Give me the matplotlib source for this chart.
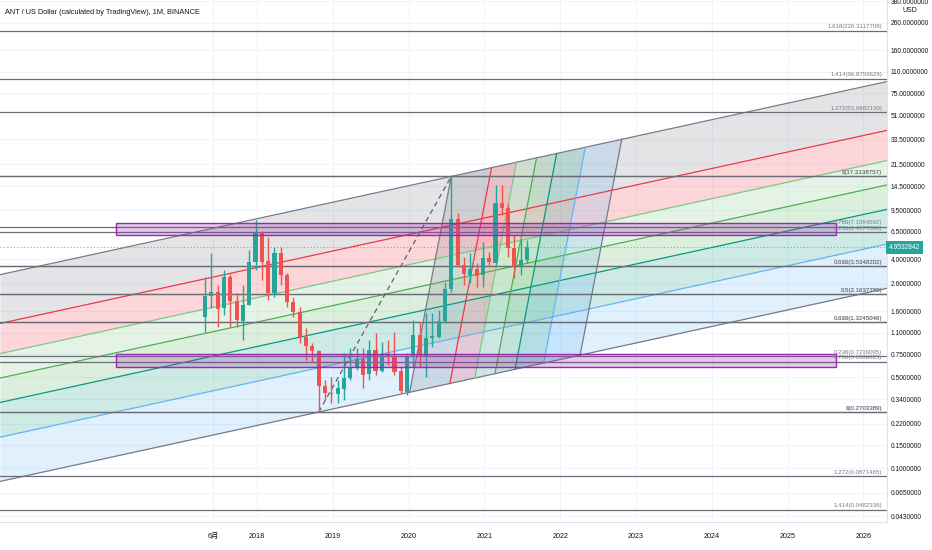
import numpy as np
import matplotlib.pyplot as plt
from matplotlib.ticker import FixedLocator, FuncFormatter, NullLocator
from matplotlib.patches import Polygon, Rectangle

plt.rcParams['font.family'] = ['Liberation Sans Narrow', 'Liberation Sans',
                               'Noto Sans CJK JP', 'DejaVu Sans']

# monthly candles, month index counted from Jan 2018
months = list(range(-8, 44))
opens = [1.438, 2.096, 2.261, 1.695, 2.931, 1.929, 1.354, 1.787, 3.840, 6.521,
         3.887, 2.221, 4.501, 3.036, 1.894, 1.588, 1.021, 0.8666, 0.7974, 0.4276,
         0.3799, 0.3713, 0.4035, 0.4899, 0.6012, 0.6888, 0.5287, 0.8074, 0.5603, 0.7393,
         0.7173, 0.5603, 0.3867, 0.7097, 1.052, 0.7097, 0.998, 1.021, 1.348, 2.358,
         8.118, 3.622, 3.036, 3.376, 3.036, 4.120, 3.772, 10.88, 9.858, 4.916,
         3.578, 3.957]
highs = [2.946, 4.477, 2.545, 3.316, 3.090, 2.209, 2.545, 4.721, 8.017, 6.600,
         5.970, 5.004, 5.004, 3.145, 2.070, 1.735, 1.191, 0.9137, 0.8074, 0.4755,
         0.5013, 0.4755, 0.7658, 0.8363, 0.8363, 0.8363, 0.963, 1.090, 0.9350, 0.963,
         1.115, 0.6012, 0.7658, 1.371, 1.331, 1.552, 1.552, 1.637, 2.697, 17.3138757,
         9.120, 4.194, 4.477, 3.752, 5.465, 4.580, 14.87, 14.87, 10.88, 6.152,
         5.632, 5.632]
lows = [1.115, 1.695, 1.218, 1.498, 1.218, 1.212, 0.963, 1.787, 3.316, 2.779,
        1.952, 2.070, 2.545, 1.735, 1.454, 0.9137, 0.6767, 0.6568, 0.2703389, 0.3340,
        0.3167, 0.3167, 0.3340, 0.4755, 0.5672, 0.4107, 0.4755, 0.5194, 0.5504, 0.6196,
        0.5194, 0.3759, 0.3648, 0.6012, 0.6012, 0.5039, 0.8558, 0.998, 1.294, 2.261,
        3.515, 2.545, 2.636, 2.469, 2.469, 3.622, 3.622, 8.758, 4.194, 2.864,
        3.036, 3.733]
closes = [2.096, 2.248, 1.657, 2.931, 1.929, 1.371, 1.787, 3.840, 6.521, 3.840,
          2.221, 4.501, 3.036, 1.894, 1.588, 1.021, 0.8666, 0.7974, 0.4276, 0.3759,
          0.3713, 0.4107, 0.4899, 0.6012, 0.6888, 0.5194, 0.8074, 0.5603, 0.7393, 0.7097,
          0.5504, 0.3936, 0.7097, 1.052, 0.7097, 0.9927, 1.034, 1.348, 2.371, 8.118,
          3.622, 3.073, 3.376, 2.999, 4.120, 3.799, 10.88, 9.858, 4.916, 3.578,
          3.957, 4.9532842]
last_price = 4.9532842

# two fib retracements between the swing high and the swing low (labels as shown)
fib_high = 17.3138757
fib_low = 0.2703389
down_levels = [0, 0.236, 0.382, 0.5, 0.618, 0.786, 1, 1.272, 1.414]
down_prices = [17.3138757, 6.4877896, 3.5348202, 2.1637789, 1.3245046, 0.6586025,
               0.2703389, 0.0871465, 0.0482336]
up_levels = [0, 0.236, 0.382, 0.5, 0.618, 0.786, 1, 1.272, 1.414, 1.618]
up_prices = [0.2703389, 0.7216095, 1.3245046, 2.1637789, 3.5348202, 7.1094592,
             17.3138757, 53.6682130, 96.8759628, 226.3117708]

# fib channel (sloped)
chan_top_anchor = (31, 17.3138757)
chan_bottom_anchor = (10, 0.2703389)
chan_slope = 0.01054  # decades per month
chan_levels = [0, 0.236, 0.382, 0.5, 0.618, 0.786, 1]
chan_colors = ['#787b86', '#f23645', '#81c784', '#4caf50', '#089981', '#64b5f6', '#787b86']

# steep channel: base from lower line to upper line, copies shifted along the channel
steep_base_start = 24.4
steep_base_end = 31
steep_shift = 27

# purple zones: (month from, month to, low, high)
zones = [(-22.1, 91.9, 6.16, 7.65), (-22.1, 91.9, 0.601, 0.753)]

yticks = [380, 260, 160, 110, 75, 51, 33.5, 21.5, 14.5, 9.5, 6.5, 4.0, 2.6, 1.6, 1.1,
          0.75, 0.5, 0.34, 0.22, 0.15, 0.1, 0.065, 0.043]
xtick_months = [-7, 0, 12, 24, 36, 48, 60, 72, 84, 96]
xtick_labels = ['6月', '2018', '2019', '2020', '2021', '2022', '2023', '2024', '2025', '2026']

XMIN, XMAX = -40.47, 100.0
YMIN, YMAX = 0.0388, 390

fig = plt.figure(figsize=(9.32, 5.5), dpi=100)
fig.set_facecolor('white')
ax = fig.add_axes([0, 28 / 550, 887 / 932, 522 / 550])
ax.set_yscale('log')
ax.set_xlim(XMIN, XMAX)
ax.set_ylim(YMIN, YMAX)


def top_log(m):
    return np.log10(chan_top_anchor[1]) + chan_slope * (np.asarray(m) - chan_top_anchor[0])


chan_width = top_log(chan_bottom_anchor[0]) - np.log10(chan_bottom_anchor[1])


def level_price(m, lev):
    return 10 ** (top_log(m) - lev * chan_width)


xs = np.array([XMIN, XMAX])
for i in range(len(chan_levels) - 1):
    ax.fill_between(xs, level_price(xs, chan_levels[i]), level_price(xs, chan_levels[i + 1]),
                    color=chan_colors[i], alpha=0.2, lw=0, zorder=1)
for lev, c in zip(chan_levels, chan_colors):
    ax.plot(xs, level_price(xs, lev), color=c, lw=0.9, zorder=2)

# steep bands
pts = []
for lev in chan_levels:
    mb = steep_base_start + lev * steep_shift
    mt = steep_base_end + lev * steep_shift
    pts.append(((mb, level_price(mb, 1)), (mt, level_price(mt, 0))))
for i in range(len(chan_levels) - 1):
    (b0, t0), (b1, t1) = pts[i], pts[i + 1]
    ax.add_patch(Polygon([b0, t0, t1, b1], closed=True, facecolor=chan_colors[i],
                         alpha=0.2, lw=0, zorder=1.2))
for (b, t), c in zip(pts, chan_colors):
    ax.plot([b[0], t[0]], [b[1], t[1]], color=c, lw=0.9, zorder=2)

# fib retracement lines and labels
ytr = ax.get_yaxis_transform()
fib_lines = list(zip(down_levels, down_prices)) + list(zip(up_levels, up_prices))
for lev, price in fib_lines:
    ax.axhline(price, color='#6a6d78', lw=0.9, zorder=2.5)
    ax.annotate('{:g}({:.7f})'.format(lev, price), xy=(0.9945, price), xycoords=ytr,
                xytext=(0, 1), textcoords='offset points', ha='right', va='bottom',
                fontsize=4.4, color='#787b86', zorder=5)

# purple zones
for x0, x1, lo, hi in zones:
    ax.add_patch(Rectangle((x0, lo), x1 - x0, hi - lo, facecolor='#9c27b0', alpha=0.25,
                           edgecolor='none', zorder=4))
    ax.add_patch(Rectangle((x0, lo), x1 - x0, hi - lo, facecolor='none',
                           edgecolor='#9c27b0', lw=1, zorder=4))

# dashed swing line
ax.plot([chan_bottom_anchor[0], chan_top_anchor[0]], [fib_low, fib_high],
        color='#5d606b', lw=0.9, ls=(0, (4, 3)), zorder=3)

# candles
up_c, dn_c = '#26a69a', '#ef5350'
colors = [up_c if c >= o else dn_c for o, c in zip(opens, closes)]
ax.vlines(months, lows, highs, colors=colors, lw=1, zorder=3.5)
bottoms = [min(o, c) for o, c in zip(opens, closes)]
heights = [max(abs(c - o), min(o, c) * 0.012) for o, c in zip(opens, closes)]
ax.bar(months, heights, bottom=bottoms, width=0.65, color=colors, lw=0, zorder=3.6)

# last price line
ax.axhline(last_price, color=up_c, lw=0.8, ls=(0, (1, 2)), alpha=0.7, zorder=2.6)

# axes styling
ax.set_axisbelow(True)
ax.grid(True, color='#f0f3fa', lw=0.8)
ax.yaxis.set_major_locator(FixedLocator(yticks))
ax.yaxis.set_minor_locator(NullLocator())
ax.yaxis.set_major_formatter(FuncFormatter(lambda v, p: '{:.7f}'.format(v)))
ax.yaxis.tick_right()
ax.tick_params(axis='y', length=0, pad=2.5, labelsize=4.8, labelcolor='#131722')
ax.set_xticks([m + 0.25 for m in xtick_months])
ax.set_xticklabels(xtick_labels)
ax.tick_params(axis='x', length=0, pad=8, labelsize=5.2, labelcolor='#131722')
for s in ['top', 'left']:
    ax.spines[s].set_visible(False)
for s in ['right', 'bottom']:
    ax.spines[s].set_color('#e0e3eb')

ax.text(1.002, last_price, '{:.7f}'.format(last_price), transform=ytr, ha='left',
        va='center', fontsize=4.8, color='white', clip_on=False, zorder=6,
        bbox=dict(boxstyle='square,pad=0.45', fc=up_c, ec='none'))
fig.text(910 / 932, 1 - 11 / 550, 'USD', ha='center', va='center', fontsize=5,
         color='#131722')
ax.text(0.006, 1 - 13 / 522, 'ANT / US Dollar (calculated by TradingView), 1M, BINANCE',
        transform=ax.transAxes, ha='left', va='center', fontsize=5.3, color='#131722')

fig.savefig('out.png', dpi=100, facecolor='white')
